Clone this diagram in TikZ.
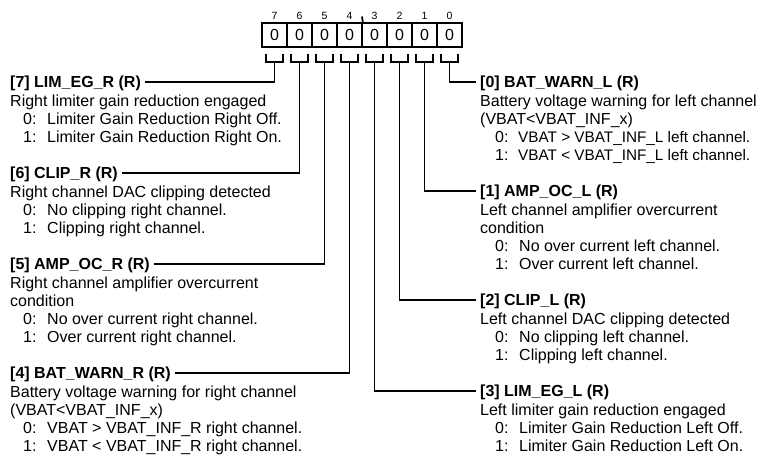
\documentclass[tikz,border=0pt]{standalone}
\usepackage{fontspec}
\setmainfont{Liberation Sans}
\newcommand\regitem[2]{\makebox[24pt][l]{#1}#2}
\newcommand\regitemt[2]{\makebox[23pt][l]{#1}{\fontsize{15.3}{18}\selectfont #2}}
\begin{document}
\begin{tikzpicture}[x=1pt,y=-1pt,
  cell/.style={draw, line width=1.6pt, minimum width=25pt, minimum height=24pt, inner sep=0pt, font=\fontsize{16}{18}\selectfont},
  bitnum/.style={inner sep=0pt, font=\fontsize{10.5}{12}\selectfont},
  title/.style={anchor=west, inner xsep=4pt, inner ysep=0pt, text height=11.5pt, text depth=0pt, font=\fontsize{16}{18}\selectfont\bfseries},
  desc/.style={anchor=base west, inner sep=0pt, font=\fontsize{16}{18}\selectfont},
  wire/.style={line width=1.8pt}]
\useasboundingbox (0,0) rectangle (757,463);
% register cells
\foreach \i in {0,...,7}{
  \pgfmathsetmacro\cx{274.5+25*(7-\i)}
  \node[cell] (c\i) at (\cx,35) {0};
  \node[bitnum] (n\i) at (\cx,15.5) {\i};
  \coordinate (k\i) at (\cx,62);
  \draw[wire] (\cx-8.5,54) |- (\cx+8.5,62) -- (\cx+8.5,54);
}
\coordinate (tk) at (362,16.5);
\draw[wire] (tk) -- (c4.north east);
% left titles
\node[title] (t7) at (6,82) {[7] LIM\_EG\_R (R)};
\node[title] (t6) at (6,173) {[6] CLIP\_R (R)};
\node[title] (t5) at (6,264) {[5] AMP\_OC\_R (R)};
\node[title] (t4) at (6,373) {[4] BAT\_WARN\_R (R)};
% right titles
\node[title] (t0) at (476,82) {[0] BAT\_WARN\_L (R)};
\node[title] (t1) at (476,191) {[1] AMP\_OC\_L (R)};
\node[title] (t2) at (476,300) {[2] CLIP\_L (R)};
\node[title] (t3) at (476,391) {[3] LIM\_EG\_L (R)};
% connectors
\draw[wire] (k7) |- (t7.east);
\draw[wire] (k6) |- (t6.east);
\draw[wire] (k5) |- (t5.east);
\draw[wire] (k4) |- (t4.east);
\draw[wire] (k0) |- (t0.west);
\draw[wire] (k1) |- (t1.west);
\draw[wire] (k2) |- (t2.west);
\draw[wire] (k3) |- (t3.west);
% left descriptions
\node[desc] (d7a) at (10,106) {Right limiter gain reduction engaged};
\node[desc] (d7b) at (23,124) {\regitem{0:}{Limiter Gain Reduction Right Off.}};
\node[desc] (d7c) at (23,142) {\regitem{1:}{Limiter Gain Reduction Right On.}};
\node[desc] (d6a) at (10,197) {Right channel DAC clipping detected};
\node[desc] (d6b) at (23,215) {\regitem{0:}{No clipping right channel.}};
\node[desc] (d6c) at (23,233) {\regitem{1:}{Clipping right channel.}};
\node[desc] (d5a) at (10,288) {Right channel amplifier overcurrent};
\node[desc] (d5b) at (10,306) {condition};
\node[desc] (d5c) at (23,324) {\regitem{0:}{No over current right channel.}};
\node[desc] (d5d) at (23,342) {\regitem{1:}{Over current right channel.}};
\node[desc] (d4a) at (10,397) {Battery voltage warning for right channel};
\node[desc] (d4b) at (10,415) {(VBAT<VBAT\_INF\_x)};
\node[desc] (d4c) at (23,433) {\regitem{0:}{VBAT > VBAT\_INF\_R right channel.}};
\node[desc] (d4d) at (23,451) {\regitem{1:}{VBAT < VBAT\_INF\_R right channel.}};
% right descriptions
\node[desc] (d0a) at (480,106) {Battery voltage warning for left channel};
\node[desc] (d0b) at (480,124) {(VBAT<VBAT\_INF\_x)};
\node[desc] (d0c) at (495,142) {\regitemt{0:}{VBAT > VBAT\_INF\_L left channel.}};
\node[desc] (d0d) at (495,160) {\regitemt{1:}{VBAT < VBAT\_INF\_L left channel.}};
\node[desc] (d1a) at (480,215) {Left channel amplifier overcurrent};
\node[desc] (d1b) at (480,233) {condition};
\node[desc] (d1c) at (495,251) {\regitem{0:}{No over current left channel.}};
\node[desc] (d1d) at (495,269) {\regitem{1:}{Over current left channel.}};
\node[desc] (d2a) at (480,324) {Left channel DAC clipping detected};
\node[desc] (d2b) at (495,342) {\regitem{0:}{No clipping left channel.}};
\node[desc] (d2c) at (495,360) {\regitem{1:}{Clipping left channel.}};
\node[desc] (d3a) at (480,415) {Left limiter gain reduction engaged};
\node[desc] (d3b) at (495,433) {\regitem{0:}{Limiter Gain Reduction Left Off.}};
\node[desc] (d3c) at (495,451) {\regitem{1:}{Limiter Gain Reduction Left On.}};
\end{tikzpicture}
\end{document}
